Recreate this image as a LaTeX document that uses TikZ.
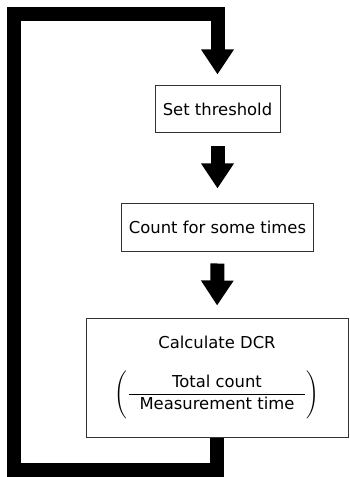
\documentclass[tikz,border=0pt]{standalone}
\usepackage{amsmath}
\usepackage{fontspec}
\setmainfont{DejaVu Sans}
\usetikzlibrary{arrows.meta,positioning}

\begin{document}
\begin{tikzpicture}[x=0.75pt, y=-0.75pt,
  stepbox/.style={draw=black!80, line width=0.75pt, fill=white, align=center, inner sep=0pt, font=\fontsize{12.3}{15}\selectfont},
  bigarrow/.style={line width=10.5pt, line join=miter, -{Triangle[length=18.75pt, width=23.25pt]}}]
  \useasboundingbox (0,0) rectangle (349,477);

  % Steps
  \node[stepbox, minimum width=93.75pt, minimum height=35.25pt] (thresh) at (217.5,109.5) {Set threshold};
  \node[stepbox, minimum width=144pt, minimum height=36pt] (count) at (217.5,227) {Count for some times};
  \node[stepbox, minimum width=196.5pt, minimum height=89.25pt] (calc) at (217,377.5)
    {Calculate DCR\\[15pt] $\Bigg(\dfrac{\text{Total count}}{\hspace{8pt}\text{Measurement time}\hspace{8pt}}\Bigg)$};

  % Arrows between steps
  \draw[bigarrow, shorten <=9.75pt, shorten >=10.5pt] (thresh.south) -- (count.north);
  \draw[bigarrow, shorten <=9pt, shorten >=9pt] (count.south) -- (calc.north);

  % Feedback loop back to the top
  \coordinate (lowleft) at (14,470);
  \coordinate (upleft) at (14,14);
  \draw[bigarrow, shorten >=8.25pt] (calc.south) |- (lowleft) -- (upleft) -| (thresh.north);
\end{tikzpicture}
\end{document}
